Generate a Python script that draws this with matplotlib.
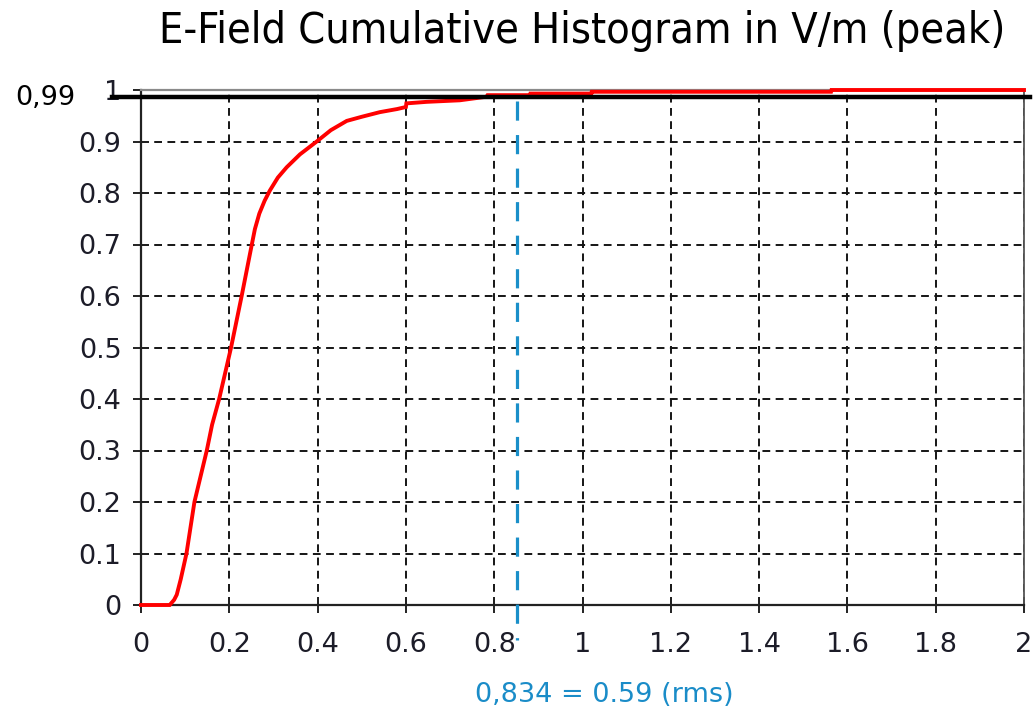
import matplotlib
matplotlib.use("Agg")
import matplotlib.pyplot as plt
from matplotlib.ticker import FuncFormatter

# ---- data ----
x_vals = [0.0, 0.065, 0.075, 0.081, 0.09, 0.103, 0.121, 0.149, 0.161, 0.177,
          0.204, 0.228, 0.251, 0.258, 0.268, 0.28, 0.292, 0.31, 0.33, 0.36,
          0.398, 0.43, 0.466, 0.50, 0.541, 0.58, 0.60, 0.601, 0.647, 0.722,
          0.783, 0.785, 0.881, 0.882, 1.02, 1.021, 1.563, 1.564, 2.0]
cum_vals = [0.0, 0.0, 0.01, 0.02, 0.05, 0.1, 0.2, 0.3, 0.35, 0.4,
            0.5, 0.6, 0.7, 0.73, 0.76, 0.785, 0.805, 0.83, 0.85, 0.875,
            0.9, 0.922, 0.94, 0.948, 0.957, 0.963, 0.967, 0.974, 0.977, 0.980,
            0.987, 0.990, 0.990, 0.993, 0.993, 0.9966, 0.9966, 1.0, 1.0]
x_ticks = [0, 0.2, 0.4, 0.6, 0.8, 1.0, 1.2, 1.4, 1.6, 1.8, 2.0]
y_ticks = [0, 0.1, 0.2, 0.3, 0.4, 0.5, 0.6, 0.7, 0.8, 0.9, 1.0]
level_99 = 0.986
level_label = "0,99"
marker_x = 0.852
marker_label = "0,834 = 0.59 (rms)"
title = "E-Field Cumulative Histogram in V/m (peak)"

W, H = 1035, 713
fig = plt.figure(figsize=(W / 100, H / 100), dpi=100)
ax = fig.add_axes([141 / W, 108 / H, 883 / W, 515 / H])

ax.set_xlim(0, 2)
ax.set_ylim(0, 1)
ax.set_xticks(x_ticks)
ax.set_yticks(y_ticks)
fmt = FuncFormatter(lambda v, p: "%g" % round(v, 2))
ax.xaxis.set_major_formatter(fmt)
ax.yaxis.set_major_formatter(fmt)

ax.grid(True, color="#151515", linewidth=1.4, dashes=(4.0, 2.8))
ax.set_axisbelow(True)

ax.tick_params(axis="both", direction="inout", length=11, width=1.4,
               color="#222222", labelsize=19.5, labelcolor="#1c1c28")
ax.tick_params(axis="y", pad=8.5)
ax.tick_params(axis="x", pad=14)

for side in ["left", "bottom"]:
    ax.spines[side].set_color("#222222")
    ax.spines[side].set_linewidth(1.6)
ax.spines["top"].set_color("#8a8a8a")
ax.spines["top"].set_linewidth(1.6)
ax.spines["right"].set_color("#555555")
ax.spines["right"].set_linewidth(1.3)

ax.plot(x_vals, cum_vals, color="#ff0000", linewidth=2.8, clip_on=False,
        zorder=5, solid_joinstyle="miter")

# 0.99 reference line
ax.plot([-0.066, 2.014], [level_99, level_99], color="black", linewidth=3.2,
        clip_on=False, zorder=6)
fig.text(15 / W, 1 - 105 / H, level_label, fontsize=19.5, color="black",
         ha="left", va="baseline")

# vertical marker line
ax.plot([marker_x, marker_x], [0.979, -0.068], color="#1a8fc9", linewidth=2.3,
        dashes=(6, 4.5), clip_on=False, zorder=7)
fig.text(604 / W, 1 - 702 / H, marker_label, fontsize=19.5, color="#1a8cc8",
         ha="center", va="baseline")

fig.text(582 / W, 1 - 43 / H, title, fontsize=31, fontstretch="condensed",
         color="black", ha="center", va="baseline")

fig.savefig("out.png", dpi=100)
